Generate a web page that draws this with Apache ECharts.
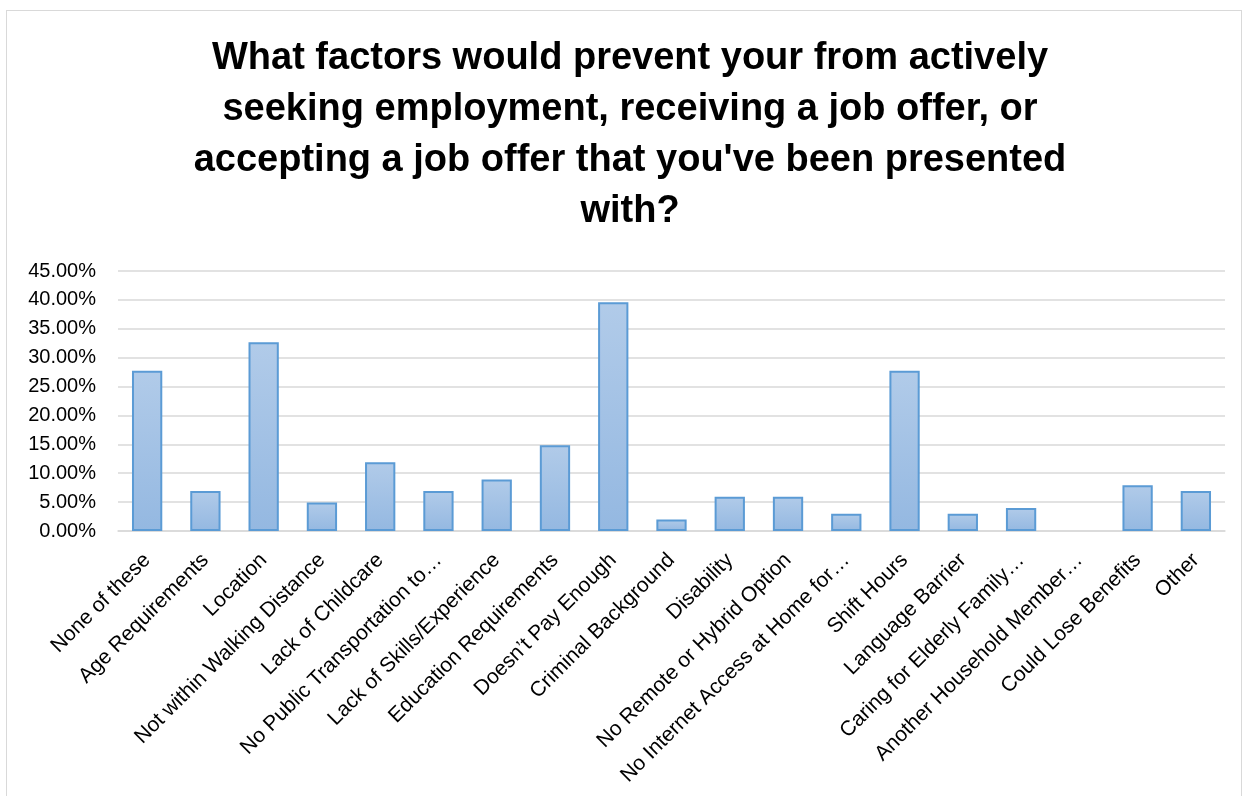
<!DOCTYPE html>
<html>
<head>
<meta charset="utf-8">
<script src="https://cdn.jsdelivr.net/npm/echarts@6/dist/echarts.min.js"></script>
<style>
html,body{margin:0;padding:0;background:#fff;}
#frame{position:absolute;left:6px;top:10px;width:1236px;height:800px;border:1px solid #d9d9d9;box-sizing:border-box;}
#chart{position:absolute;left:0;top:0;width:1250px;height:796px;}
</style>
</head>
<body>
<div id="frame"></div>
<div id="chart"></div>
<script>
const titleText = "What factors would prevent your from actively\nseeking employment, receiving a job offer, or\naccepting a job offer that you've been presented\nwith?";
const categories = [
  "None of these", "Age Requirements", "Location", "Not within Walking Distance",
  "Lack of Childcare", "No Public Transportation to…", "Lack of Skills/Experience",
  "Education Requirements", "Doesn’t Pay Enough", "Criminal Background", "Disability",
  "No Remote or Hybrid Option", "No Internet Access at Home for…", "Shift Hours",
  "Language Barrier", "Caring for Elderly Family…", "Another Household Member…",
  "Could Lose Benefits", "Other"
];
const values = [
  0.2772, 0.0693, 0.3267, 0.0495, 0.1188, 0.0693, 0.0891, 0.1485, 0.3960, 0.0198,
  0.0594, 0.0594, 0.0297, 0.2772, 0.0297, 0.0396, 0, 0.0792, 0.0693
];
const yTicks = { min: 0, max: 0.45, interval: 0.05 };

const chart = echarts.init(document.getElementById('chart'), null, {renderer: 'canvas'});
chart.setOption({
  backgroundColor: 'transparent',
  animation: false,
  graphic: [{
    type: 'text',
    x: 630,
    y: 33,
    style: {
      text: titleText,
      align: 'center',
      verticalAlign: 'top',
      fontFamily: 'Liberation Sans',
      fontWeight: 'bold',
      fontSize: 38,
      lineHeight: 51,
      fill: '#000'
    }
  }],
  grid: { left: 118, right: 25, top: 271, bottom: 265, containLabel: false },
  xAxis: {
    type: 'category',
    data: categories,
    axisLine: { show: true, lineStyle: { color: '#d9d9d9', width: 1.5 } },
    axisTick: { show: false },
    axisLabel: {
      interval: 0,
      rotate: 45,
      margin: 26,
      fontFamily: 'Liberation Sans',
      fontSize: 21,
      color: '#000'
    }
  },
  yAxis: {
    type: 'value',
    min: yTicks.min,
    max: yTicks.max,
    interval: yTicks.interval,
    axisLine: { show: false },
    axisTick: { show: false },
    splitLine: { lineStyle: { color: '#d9d9d9', width: 1.5 } },
    axisLabel: {
      formatter: v => (v * 100).toFixed(2) + '%',
      fontFamily: 'Liberation Sans',
      fontSize: 20,
      color: '#000',
      margin: 22
    }
  },
  series: [{
    type: 'bar',
    data: values.map(v => v === 0 ? { value: v, itemStyle: { borderWidth: 0 } } : v),
    barWidth: '52%',
    itemStyle: {
      color: new echarts.graphic.LinearGradient(0, 0, 0, 1, [
        { offset: 0, color: '#b1cbe9' },
        { offset: 1, color: '#94b8e1' }
      ]),
      borderColor: '#5b9bd5',
      borderWidth: 2
    }
  }]
});
</script>
</body>
</html>
